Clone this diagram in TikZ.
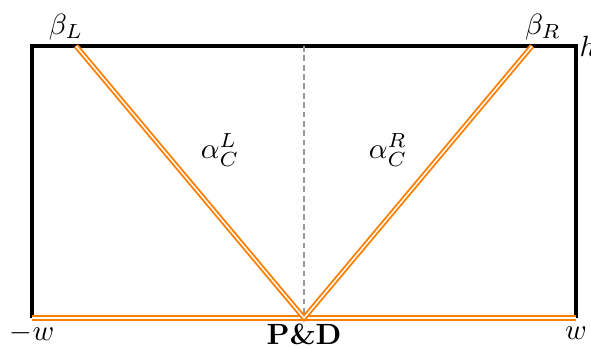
\documentclass[tikz,border=0pt]{standalone}
\usepackage{amsmath}
\begin{document}
\begin{tikzpicture}[x=0.342pt,y=-0.342pt,
  wall/.style={line width=1.1pt,black},
  beam/.style={orange,line width=0.65pt,double=white,double distance=0.5pt},
  axis/.style={gray!80,dash pattern=on 2pt off 1.2pt,line width=0.35pt},
  lbl/.style={inner sep=1pt}]
\useasboundingbox (0,0) rectangle (591,348);
\coordinate (BL) at (32,318);
\coordinate (BR) at (576,318);
\coordinate (TL) at (32,46);
\coordinate (TR) at (576,46);
\coordinate (PL) at (76,46);
\coordinate (PR) at (532,46);
\coordinate (PD) at (304,318);
\coordinate (PT) at (304,46);
\draw[wall] (BL) -- (TL) -- (TR) -- (BR);
\draw[axis] (PT) -- (PD);
\draw[beam] (BL) -- (BR);
\draw[beam] (PL) -- (PD) -- (PR);
\node[lbl] (bL) at (66,27) {$\beta_L$};
\node[lbl] (bR) at (543,27) {$\beta_R$};
\node[lbl,anchor=west] (h) at (576,46) {$h$};
\node[lbl] (mw) at (32,333) {$-w$};
\node[lbl] (w) at (576,333) {$w$};
\node[lbl] (pd) at (304,334) {\textbf{P\&D}};
\node[lbl] (aL) at (220,150) {$\alpha_C^L$};
\node[lbl] (aR) at (388,150) {$\alpha_C^R$};
\end{tikzpicture}
\end{document}
